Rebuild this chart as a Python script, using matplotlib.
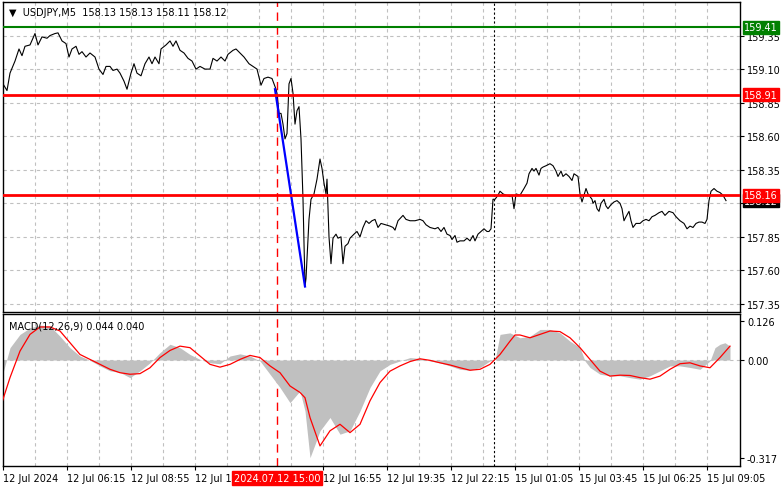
import matplotlib.pyplot as plt

# price trace (bar index, close)
bars = [0, 2, 3.5, 6, 8, 9.5, 11, 13.5, 16, 17.5, 19.5, 22, 23.5, 26, 27.5, 29.5, 31.5, 33, 34.5, 36.5,
        38, 39.5, 41.5, 43.5, 46, 48, 50, 51.5, 53.5, 55, 57, 58.5, 60.5, 62, 64, 65.5, 67, 69, 71, 73,
        74.5, 76, 78, 79, 81.5, 83.5, 85, 86.5, 88.5, 90.5, 92.5, 94.5, 96.5, 98.5, 101, 103.5, 105, 107,
        109, 111, 112.5, 115, 116.5, 118.5, 120.5, 123, 125, 127, 128, 129, 130.5, 132.5, 134.5, 135.5,
        136.5, 137, 138, 139, 140, 141, 142, 143, 144, 145, 146, 147, 148, 149, 150, 151, 151.5, 153, 154,
        155.5, 157, 158.5, 159.5, 160.5, 161.5, 162, 163, 164, 165, 166.5, 167.5, 169, 170, 171, 172.5,
        173.5, 175.5, 177, 178.5, 180, 181.5, 183, 184.5, 186, 187.5, 189, 193.5, 195, 196, 197.5, 200,
        201.5, 203.5, 206, 208.5, 210, 211.5, 213.5, 216, 217.5, 219, 220.5, 222, 223.5, 224.5, 226, 227,
        228.5, 230.5, 232, 233.5, 235, 236, 237.5, 239, 240.5, 242, 243, 244, 245, 246, 247.5, 248.5, 250,
        251.5, 253.5, 254.5, 255.5, 256.5, 258.5, 260.5, 262, 263, 264.5, 265.5, 266.5, 268, 269, 270,
        271.5, 273.5, 275, 276.5, 277.5, 279, 280, 281.5, 283, 284.5, 285.5, 287.5, 288.5, 289.5, 290.5,
        291.5, 292.5, 294.5, 295, 296, 297, 298, 299, 300.5, 301.5, 302.5, 304, 305.5, 307, 308.5, 309.5,
        310.5, 311.5, 313, 314, 315, 316.5, 318.5, 320, 321.5, 323, 324.5, 326, 328, 329.5, 331, 333, 335,
        336.5, 338.5, 340.5, 342, 343.5, 345, 346.5, 348, 349.5, 351, 352, 353, 354, 355.5, 357, 358.5,
        360, 361.5]
close = [158.99, 158.94, 159.07, 159.16, 159.25, 159.20, 159.27, 159.28, 159.365, 159.28, 159.34, 159.33,
         159.35, 159.365, 159.37, 159.31, 159.29, 159.19, 159.25, 159.27, 159.21, 159.23, 159.19, 159.22,
         159.19, 159.10, 159.06, 159.12, 159.12, 159.09, 159.10, 159.07, 159.01, 158.95, 159.07, 159.14,
         159.07, 159.05, 159.14, 159.19, 159.14, 159.19, 159.14, 159.25, 159.28, 159.31, 159.27, 159.31,
         159.24, 159.22, 159.18, 159.16, 159.10, 159.12, 159.10, 159.10, 159.18, 159.16, 159.19, 159.16,
         159.21, 159.24, 159.25, 159.22, 159.19, 159.14, 159.12, 159.10, 159.04, 158.98, 159.03, 159.04,
         159.03, 158.99, 158.95, 158.92, 158.77, 158.77, 158.69, 158.58, 158.62, 158.99, 159.03, 158.92,
         158.69, 158.79, 158.82, 158.58, 158.13, 157.48, 157.54, 157.98, 158.13, 158.17, 158.28, 158.43,
         158.36, 158.25, 158.17, 158.28, 157.85, 157.65, 157.84, 157.87, 157.84, 157.85, 157.65, 157.78,
         157.80, 157.84, 157.87, 157.89, 157.85, 157.92, 157.97, 157.95, 157.97, 157.98, 157.92, 157.95,
         157.93, 157.92, 157.90, 157.97, 158.01, 157.98, 157.97, 157.97, 157.98, 157.97, 157.94, 157.92,
         157.91, 157.92, 157.89, 157.92, 157.87, 157.86, 157.83, 157.86, 157.81, 157.82, 157.82, 157.84,
         157.82, 157.86, 157.82, 157.87, 157.89, 157.91, 157.89, 157.89, 157.91, 158.13, 158.13, 158.16,
         158.19, 158.17, 158.16, 158.15, 158.16, 158.06, 158.17, 158.16, 158.21, 158.25, 158.32, 158.36,
         158.34, 158.36, 158.31, 158.36, 158.37, 158.38, 158.395, 158.38, 158.34, 158.30, 158.34, 158.30,
         158.32, 158.30, 158.27, 158.32, 158.30, 158.17, 158.11, 158.16, 158.21, 158.17, 158.13, 158.10,
         158.12, 158.06, 158.04, 158.10, 158.13, 158.08, 158.06, 158.09, 158.11, 158.12, 158.10, 158.06,
         157.97, 158.00, 158.04, 157.97, 157.92, 157.95, 157.95, 157.97, 157.98, 157.97, 158.00, 158.01,
         158.03, 158.04, 158.01, 158.04, 158.03, 158.00, 157.97, 157.95, 157.91, 157.93, 157.92, 157.95,
         157.96, 157.96, 157.95, 157.98, 158.12, 158.19, 158.21, 158.19, 158.18, 158.16, 158.12]

trend_bars = [136, 151]
trend_prices = [158.95, 157.48]

hist_bars = [-0.25, 3.5, 8.5, 13.5, 18.5, 23.5, 28.5, 33.5, 38.5, 43.5, 48.5, 53.5, 58.5, 63.5, 68.5, 73.5,
             78.5, 83.5, 88.5, 93.5, 98.5, 103.5, 108.5, 113.5, 118.5, 123.5, 128.5, 133.5, 138.5, 143.5,
             148.5, 151, 153.5, 156, 158.5, 163.5, 168.5, 173.5, 178.5, 183.5, 188.5, 193.5, 198.5, 203.5,
             208.5, 213.5, 218.5, 223.5, 228.5, 233.5, 238.5, 243.5, 246, 248.5, 253.5, 258.5, 263.5, 268.5,
             273.5, 278.5, 283.5, 288.5, 291, 293.5, 298.5, 303.5, 308.5, 313.5, 318.5, 323.5, 328.5, 333.5,
             338.5, 343.5, 348.5, 353.5, 356, 358.5, 361, 363.5]
hist_vals = [-0.047, 0.040, 0.083, 0.104, 0.113, 0.110, 0.077, 0.040, 0.013, -0.001, -0.019, -0.035, -0.040,
             -0.057, -0.035, -0.009, 0.024, 0.051, 0.040, 0.018, 0.002, -0.009, -0.012, 0.013, 0.020, 0.013,
             -0.003, -0.046, -0.089, -0.138, -0.100, -0.165, -0.316, -0.273, -0.229, -0.186, -0.240, -0.229,
             -0.165, -0.089, -0.035, -0.014, -0.003, 0.008, 0.005, -0.003, -0.009, -0.019, -0.030, -0.033,
             -0.024, -0.003, -0.001, 0.083, 0.088, 0.072, 0.077, 0.099, 0.099, 0.088, 0.061, 0.040, -0.003,
             -0.024, -0.046, -0.051, -0.051, -0.057, -0.062, -0.051, -0.035, -0.019, -0.019, -0.024, -0.030,
             -0.003, 0.040, 0.051, 0.056, 0.045]

sig_bars = [-0.25, 3.5, 8.5, 13.5, 18.5, 23.5, 28.5, 33.5, 38.5, 43.5, 48.5, 53.5, 58.5, 63.5, 68.5, 73.5,
            78.5, 83.5, 88.5, 93.5, 98.5, 103.5, 108.5, 113.5, 118.5, 123.5, 128.5, 133.5, 138.5, 143.5,
            148.5, 151, 153.5, 158.5, 163.5, 168.5, 173.5, 178.5, 183.5, 188.5, 193.5, 198.5, 203.5, 208.5,
            213.5, 218.5, 223.5, 228.5, 233.5, 238.5, 243.5, 248.5, 253.5, 256, 258.5, 263.5, 268.5, 273.5,
            278.5, 283.5, 288.5, 293.5, 298.5, 303.5, 308.5, 313.5, 318.5, 323.5, 328.5, 333.5, 338.5,
            343.5, 348.5, 353.5, 358.5, 363.5]
sig_vals = [-0.132, -0.057, 0.029, 0.083, 0.107, 0.107, 0.094, 0.056, 0.018, 0.002, -0.014, -0.030, -0.041,
            -0.046, -0.044, -0.025, 0.008, 0.031, 0.045, 0.040, 0.013, -0.014, -0.023, -0.014, 0.002, 0.015,
            0.008, -0.019, -0.041, -0.084, -0.105, -0.122, -0.186, -0.278, -0.229, -0.208, -0.235, -0.208,
            -0.132, -0.073, -0.036, -0.019, -0.005, 0.004, -0.001, -0.009, -0.016, -0.025, -0.033, -0.030,
            -0.014, 0.018, 0.061, 0.081, 0.081, 0.072, 0.083, 0.094, 0.092, 0.072, 0.040, 0.002, -0.036,
            -0.052, -0.049, -0.050, -0.057, -0.062, -0.052, -0.030, -0.012, -0.009, -0.019, -0.025, 0.008,
            0.045]

price_ticks = [157.35, 157.60, 157.85, 158.10, 158.35, 158.60, 158.85, 159.10, 159.35]
time_ticks = [0, 32, 64, 96, 160, 192, 224, 256, 288, 320, 352]
time_labels = ['12 Jul 2024', '12 Jul 06:15', '12 Jul 08:55', '12 Jul 11:35', '12 Jul 16:55', '12 Jul 19:35',
               '12 Jul 22:15', '15 Jul 01:05', '15 Jul 03:45', '15 Jul 06:25', '15 Jul 09:05']
levels = [(159.41, 'green'), (158.91, 'red'), (158.16, 'red')]
event_bar = 137
session_bar = 245.5

W, H = 781, 489
fig = plt.figure(figsize=(W / 100, H / 100), dpi=100)
fs = 7

def frac(x0, y0, x1, y1):
    return [x0 / W, 1 - y1 / H, (x1 - x0) / W, (y1 - y0) / H]

ax = fig.add_axes(frac(3, 3, 740, 313))
mx = fig.add_axes(frac(3, 315, 740, 467))
xmax = 368.5

for a in (ax, mx):
    a.set_xlim(0, xmax)
    for s in a.spines.values():
        s.set_color('black')
        s.set_linewidth(1)
    for b in range(16, int(xmax), 16):
        a.axvline(b, color='#c0c0c0', lw=0.8, ls=(0, (3, 3)), zorder=0)
    a.axvline(event_bar, color='red', lw=1, ls=(0, (6, 4)), zorder=1)
    a.axvline(session_bar, color='black', lw=0.8, ls=(0, (2, 2)), zorder=1)
    a.tick_params(left=False, labelleft=False, right=True, labelright=True, bottom=False,
                  labelbottom=False, labelsize=fs, length=3, pad=2)

# price panel
ax.set_ylim(157.29, 159.60)
ax.set_yticks(price_ticks)
ax.set_yticklabels([f'{p:.2f}' for p in price_ticks])
for p in price_ticks:
    ax.axhline(p, color='#c0c0c0', lw=0.8, ls=(0, (3, 3)), zorder=0)
ax.plot(bars, close, color='black', lw=0.8, zorder=3)
ax.plot(trend_bars, trend_prices, color='blue', lw=1.6, zorder=4)
ax.text(368.5 + 2, close[-1], f'{close[-1]:.2f}', color='white', fontsize=fs, va='center', ha='left',
        transform=ax.transData, clip_on=False,
        bbox=dict(boxstyle='square,pad=0.15', fc='black', ec='black'))
for lvl, col in levels:
    ax.axhline(lvl, color=col, lw=2 if col == 'red' else 1.5, zorder=5)
    ax.text(368.5 + 2, lvl, f'{lvl:.2f}', color='white', fontsize=fs, va='center', ha='left',
            clip_on=False, zorder=6, bbox=dict(boxstyle='square,pad=0.15', fc=col, ec=col))
ax.text(0.008, 0.985, '▼  USDJPY,M5  158.13 158.13 158.11 158.12', transform=ax.transAxes,
        fontsize=fs, va='top', ha='left')

# macd panel
mx.set_ylim(-0.343, 0.149)
mx.set_yticks([0.126, 0.0, -0.317])
mx.set_yticklabels(['0.126', '0.00', '-0.317'])
mx.axhline(0, color='#c0c0c0', lw=0.8, ls=(0, (3, 3)), zorder=0)
mx.fill_between(hist_bars, 0, hist_vals, color='#c0c0c0', lw=0, zorder=2)
mx.plot(sig_bars, sig_vals, color='red', lw=0.9, zorder=3)
mx.text(0.008, 0.96, 'MACD(12,26,9) 0.044 0.040', transform=mx.transAxes, fontsize=fs, va='top', ha='left')

# time labels
mx.tick_params(bottom=True, length=3)
mx.set_xticks(time_ticks)
for b, lab in zip(time_ticks, time_labels):
    mx.text(b, -0.365, lab, fontsize=fs, ha='left', va='top', transform=mx.transData, clip_on=False)
mx.set_xticklabels([])
mx.text(event_bar, -0.365, '2024.07.12 15:00', fontsize=fs, ha='center', va='top', color='white',
        clip_on=False, zorder=10, bbox=dict(boxstyle='square,pad=0.2', fc='red', ec='red'))

fig.savefig('out.png', dpi=100, facecolor='white')
